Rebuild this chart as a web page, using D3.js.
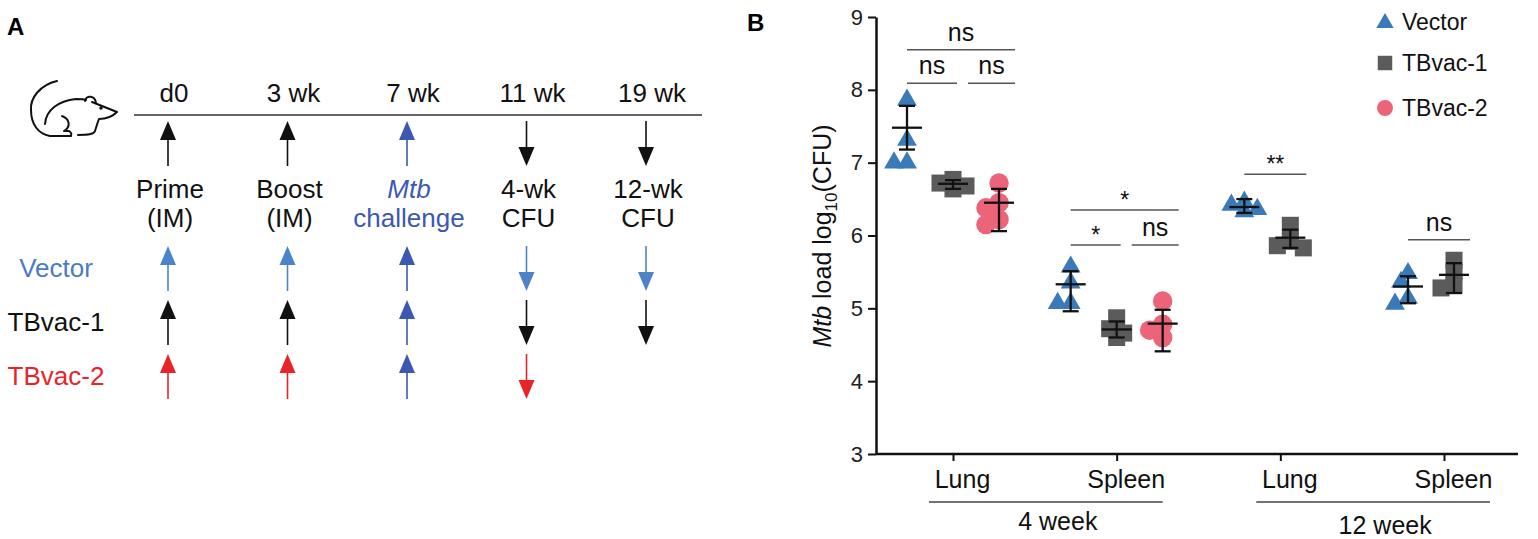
<!DOCTYPE html>
<html>
<head>
<meta charset="utf-8">
<script src="https://cdn.jsdelivr.net/npm/d3@7"></script>
<style>
  body { margin: 0; background: #fff; }
  svg { display: block; font-family: "Liberation Sans", Arial, sans-serif; }
</style>
</head>
<body>
<svg id="fig" width="1538" height="539"></svg>
<script>
// ---------- panel A: immunisation schedule ----------
const timepoints = ["d0", "3 wk", "7 wk", "11 wk", "19 wk"];
const actionTop = ["Prime", "Boost", "Mtb", "4-wk", "12-wk"];
const actionBottom = ["(IM)", "(IM)", "challenge", "CFU", "CFU"];
const topArrows = ["up", "up", "up", "down", "down"];
const rowNames = ["Vector", "TBvac-1", "TBvac-2"];
const vectorArrows = ["up", "up", "up", "down", "down"];
const tbvac1Arrows = ["up", "up", "up", "down", "down"];
const tbvac2Arrows = ["up", "up", "up", "down", ""];

// ---------- panel B: Mtb load ----------
const categories = ["Lung", "Spleen", "Lung ", "Spleen "];
const weeks = ["4 week", "4 week", "12 week", "12 week"];
const groups = ["Vector", "TBvac-1", "TBvac-2"];
const vectorPts = [[7.86, 7.31, 7.0, 7.0], [5.57, 5.35, 5.07, 5.07], [6.46, 6.42, 6.36, 6.33], [5.48, 5.36, 5.14, 5.06]];
const tbvac1Pts = [[6.77, 6.72, 6.68, 6.64], [4.87, 4.72, 4.66, 4.6], [6.14, 5.92, 5.86, 5.83], [5.66, 5.5, 5.32, 5.28]];
const tbvac2Pts = [[6.72, 6.45, 6.38, 6.22, 6.15], [5.1, 4.78, 4.7, 4.6], null, null];
const vectorMean = [7.48, 5.33, 6.39, 5.3], vectorLo = [7.18, 4.96, 6.31, 5.07], vectorHi = [7.78, 5.51, 6.5, 5.44];
const tbvac1Mean = [6.71, 4.71, 5.97, 5.46], tbvac1Lo = [6.64, 4.6, 5.83, 5.21], tbvac1Hi = [6.76, 4.82, 6.08, 5.62];
const tbvac2Mean = [6.45, 4.79, null, null], tbvac2Lo = [6.06, 4.41, null, null], tbvac2Hi = [6.64, 4.98, null, null];
// significance: [category index, from group, to group, label, bar level]
const sigBars = [
  [0, 0, 2, "ns", 8.55], [0, 0, 1, "ns", 8.09], [0, 1, 2, "ns", 8.09],
  [1, 0, 2, "*", 6.35], [1, 0, 1, "*", 5.87], [1, 1, 2, "ns", 5.87],
  [2, 0, 1, "**", 6.84],
  [3, 0, 1, "ns", 5.94]
];

const svg = d3.select("#fig");
const blueL = "#4d84c8", blueD = "#3c58b1", red = "#e8232a", ink = "#111";
const fA = 26;

// ================= PANEL A =================
const A = svg.append("g");
A.append("text").attr("x", 7).attr("y", 35).attr("font-size", 24).attr("font-weight", "bold").text("A");

const col = d3.scalePoint().domain(timepoints).range([168, 646]);
const row = d3.scalePoint().domain(rowNames).range([268, 376]);
const rowColor = { "Vector": blueL, "TBvac-1": ink, "TBvac-2": red };
const rowArrows = { "Vector": vectorArrows, "TBvac-1": tbvac1Arrows, "TBvac-2": tbvac2Arrows };

// mouse outline
const mouse = A.append("g").attr("fill", "none").attr("stroke", ink).attr("stroke-width", 2)
  .attr("stroke-linecap", "round").attr("stroke-linejoin", "round");
mouse.append("path").attr("d", "M57,81 C40,85 30,98 31,110 C31,124 38,134 50,136 L71,136");
mouse.append("path").attr("d", "M45,124 C46,110 58,101 76,99 C80,99 83,99 86,100");
mouse.append("path").attr("d", "M85,101 C86,95 95,95 96,103");
mouse.append("path").attr("d", "M92,102 L117,112 C112,117 105,119 99,119 C97,124 96,128 95,131 C94,134 90,135 78,135");
mouse.append("path").attr("d", "M62,116 C70,119 71,127 64,131 L69,131 C72,133 72,135 70,136");
mouse.append("circle").attr("cx", 101).attr("cy", 108).attr("r", 0.8).attr("fill", ink);

// timeline
A.append("line").attr("x1", 134).attr("x2", 702).attr("y1", 115).attr("y2", 115)
  .attr("stroke", "#333").attr("stroke-width", 1.5);

A.append("g").selectAll("text").data(timepoints).join("text")
  .attr("x", d => col(d) + 6).attr("y", 102).attr("text-anchor", "middle")
  .attr("font-size", fA).attr("fill", ink).text(d => d);

function arrow(g, cx, top, dir, color) {
  const len = 45, hl = 19, hw = 8;
  const ag = g.append("g");
  if (dir === "up") {
    ag.append("line").attr("x1", cx).attr("x2", cx).attr("y1", top + hl - 1).attr("y2", top + len)
      .attr("stroke", color).attr("stroke-width", 1.6);
    ag.append("path").attr("d", `M${cx},${top} L${cx + hw},${top + hl} L${cx - hw},${top + hl}Z`).attr("fill", color);
  } else if (dir === "down") {
    ag.append("line").attr("x1", cx).attr("x2", cx).attr("y1", top).attr("y2", top + len - hl + 1)
      .attr("stroke", color).attr("stroke-width", 1.6);
    ag.append("path").attr("d", `M${cx},${top + len} L${cx + hw},${top + len - hl} L${cx - hw},${top + len - hl}Z`).attr("fill", color);
  }
}

timepoints.forEach((t, i) => arrow(A, col(t), 121, topArrows[i], t === "7 wk" ? blueD : ink));

const act = A.append("g").attr("font-size", fA).attr("text-anchor", "middle");
timepoints.forEach((t, i) => {
  const c = t === "7 wk" ? blueD : ink;
  act.append("text").attr("x", col(t) + 2).attr("y", 198).attr("fill", c)
    .attr("font-style", t === "7 wk" ? "italic" : null).text(actionTop[i]);
  act.append("text").attr("x", col(t) + 2).attr("y", 227).attr("fill", c).text(actionBottom[i]);
});

rowNames.forEach(r => {
  A.append("text").attr("x", 56).attr("y", row(r) + 9).attr("text-anchor", "middle")
    .attr("font-size", fA).attr("fill", r === "Vector" ? "#4a7cc4" : rowColor[r]).text(r);
  rowArrows[r].forEach((dir, i) => {
    const t = timepoints[i];
    arrow(A, col(t), row(r) - 22, dir, t === "7 wk" ? blueD : rowColor[r]);
  });
});

// ================= PANEL B =================
const B = svg.append("g");
B.append("text").attr("x", 747).attr("y", 31).attr("font-size", 24).attr("font-weight", "bold").text("B");

const y = d3.scaleLinear().domain([3, 9]).range([454, 17]);
const x = d3.scalePoint().domain(categories).range([953, 1444]);
const gx = d3.scalePoint().domain(groups).range([-46, 46]);
const weekShift = { "4 week": 0, "12 week": 10 };
const gpos = (ci, gi) => x(categories[ci]) + weekShift[weeks[ci]] + gx(groups[gi]);

// y axis
const yAxis = B.append("g").attr("transform", "translate(876,0)")
  .call(d3.axisLeft(y).ticks(6).tickSize(8).tickSizeOuter(0).tickPadding(5));
yAxis.select(".domain").attr("stroke", ink).attr("stroke-width", 2.5);
yAxis.selectAll(".tick line").attr("stroke", ink).attr("stroke-width", 2);
yAxis.selectAll(".tick text").attr("font-size", 22).attr("fill", "#222")
  .attr("font-family", "Liberation Sans, Arial, sans-serif");

// x axis
const xAxis = B.append("g").attr("transform", "translate(0,454)")
  .call(d3.axisBottom(x).tickSize(7).tickPadding(9).tickFormat(d => d.trim()));
xAxis.select(".domain").remove();
xAxis.append("line").attr("x1", 876).attr("x2", 1518).attr("stroke", ink).attr("stroke-width", 2.5);
xAxis.selectAll(".tick line").attr("stroke", ink).attr("stroke-width", 2);
xAxis.selectAll(".tick text").attr("font-size", 25).attr("fill", ink).attr("dx", 9)
  .attr("font-family", "Liberation Sans, Arial, sans-serif");

// week brackets
const weekNames = Array.from(new Set(weeks));
weekNames.forEach(w => {
  const cs = categories.filter((c, i) => weeks[i] === w);
  const x1 = x(cs[0]) - 24, x2 = x(cs[cs.length - 1]) + 46;
  B.append("line").attr("x1", x1).attr("x2", x2).attr("y1", 502).attr("y2", 502)
    .attr("stroke", "#444").attr("stroke-width", 1.3);
  B.append("text").attr("x", (x1 + x2) / 2 + 12).attr("y", w === "4 week" ? 530 : 534)
    .attr("text-anchor", "middle").attr("font-size", 25).attr("fill", ink).text(w);
});

// y label
const yl = B.append("text").attr("transform", "translate(831,236) rotate(-90)")
  .attr("text-anchor", "middle").attr("font-size", 25).attr("fill", ink);
yl.append("tspan").attr("font-style", "italic").text("Mtb");
yl.append("tspan").text(" load log");
yl.append("tspan").attr("font-size", 17).attr("dy", 6).text("10");
yl.append("tspan").attr("dy", -6).text("(CFU)");

// markers
const groupPts = [vectorPts, tbvac1Pts, tbvac2Pts];
const groupMean = [vectorMean, tbvac1Mean, tbvac2Mean];
const groupLo = [vectorLo, tbvac1Lo, tbvac2Lo];
const groupHi = [vectorHi, tbvac1Hi, tbvac2Hi];
const groupColor = ["#3a7ab9", "#5b5b5b", "#ec6479"];
const groupSym = [d3.symbol(d3.symbolTriangle, 170), d3.symbol(d3.symbolSquare, 290), d3.symbol(d3.symbolCircle, 300)];

const points = [];
groupPts.forEach((byCat, gi) => byCat.forEach((vals, ci) => {
  if (!vals) return;
  const placed = [];
  vals.slice().sort((a, b) => b - a).forEach(v => {
    const py = y(v);
    const offs = [0, -7, 7, -13, 13];
    let off = offs.find(o => placed.every(p => Math.hypot(p.dx - o, p.py - py) > 11)) ?? 0;
    placed.push({ dx: off, py });
    points.push({ gi, ci, x: gpos(ci, gi) + off, y: py });
  });
}));

B.append("g").selectAll("path").data(points).join("path")
  .attr("transform", d => `translate(${d.x},${d.y})`)
  .attr("d", d => groupSym[d.gi]())
  .attr("fill", d => groupColor[d.gi]);

// mean +/- error
const bars = [];
groupMean.forEach((arr, gi) => arr.forEach((m, ci) => {
  if (m == null) return;
  bars.push({ cx: gpos(ci, gi), m, lo: groupLo[gi][ci], hi: groupHi[gi][ci] });
}));
const eb = B.append("g").attr("stroke", ink).attr("stroke-width", 2.3);
bars.forEach(b => {
  eb.append("line").attr("x1", b.cx).attr("x2", b.cx).attr("y1", y(b.lo)).attr("y2", y(b.hi));
  eb.append("line").attr("x1", b.cx - 15).attr("x2", b.cx + 15).attr("y1", y(b.m)).attr("y2", y(b.m));
  [b.lo, b.hi].forEach(v => eb.append("line").attr("x1", b.cx - 8).attr("x2", b.cx + 8).attr("y1", y(v)).attr("y2", y(v)));
});

// significance bars
sigBars.forEach(([ci, a, b, lab, lev]) => {
  const nGroups = groupPts.filter(g => g[ci]).length;
  const x1 = gpos(ci, a) + (a === 0 ? 0 : 15);
  const x2 = gpos(ci, b) + (b === nGroups - 1 ? 16 : 4);
  const ly = y(lev);
  B.append("line").attr("x1", x1).attr("x2", x2).attr("y1", ly).attr("y2", ly)
    .attr("stroke", "#555").attr("stroke-width", 1.5);
  B.append("text").attr("x", (x1 + x2) / 2).attr("y", lab === "ns" ? ly - 9 : ly - 2)
    .attr("text-anchor", "middle").attr("font-size", lab === "ns" ? 25 : 23).attr("fill", ink).text(lab);
});

// legend
const lg = B.append("g").attr("transform", "translate(1385,0)");
groups.forEach((g, i) => {
  const ly = [22, 63, 108][i];
  lg.append("path").attr("transform", `translate(0,${ly + (i === 0 ? 1 : 0)})`)
    .attr("d", d3.symbol([d3.symbolTriangle, d3.symbolSquare, d3.symbolCircle][i], [130, 210, 200][i])())
    .attr("fill", groupColor[i]);
  lg.append("text").attr("x", 17).attr("y", ly + 8).attr("font-size", 23).attr("fill", ink).text(g);
});
</script>
</body>
</html>
